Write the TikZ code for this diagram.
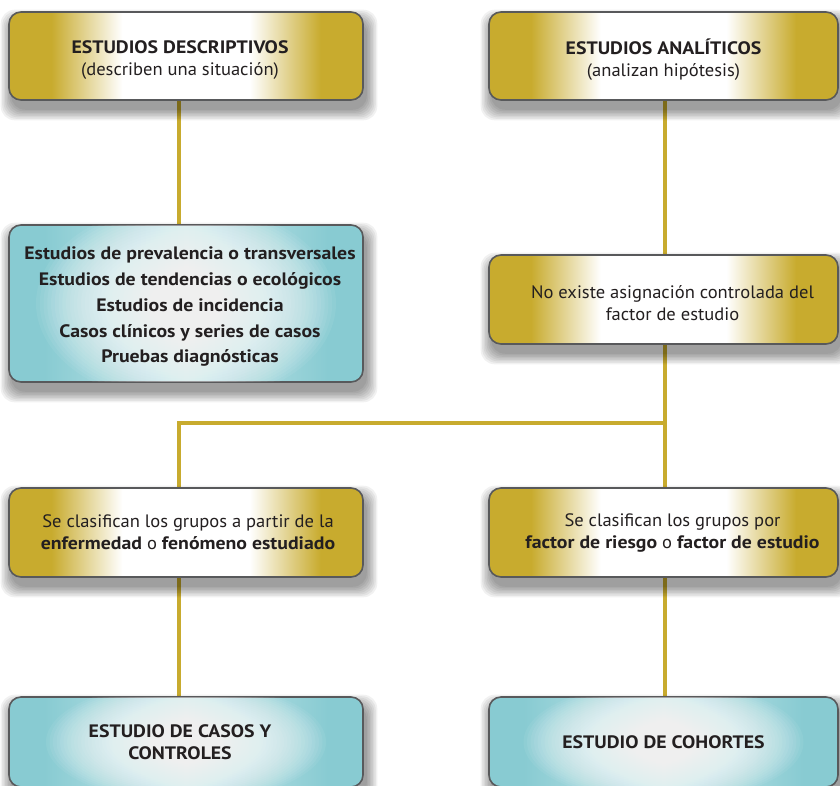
\documentclass[tikz,border=0pt]{standalone}
\usepackage{fontspec}
\setmainfont{PT Sans}[UprightFeatures={FakeStretch=1.03},BoldFeatures={FakeStretch=1.1}]
\usetikzlibrary{calc}
\definecolor{gold}{RGB}{200,171,46}
\definecolor{tealc}{RGB}{136,203,210}
\definecolor{edgec}{RGB}{88,89,91}
\definecolor{ink}{RGB}{35,31,32}
\pgfdeclarehorizontalshading{goldsh}{100bp}{color(0bp)=(gold); color(31bp)=(gold); color(41bp)=(white); color(59bp)=(white); color(69bp)=(gold); color(100bp)=(gold)}
\pgfdeclarehorizontalshading{tealsh}{100bp}{color(0bp)=(tealc); color(30bp)=(tealc); color(50bp)=(white!55!tealc); color(70bp)=(tealc); color(100bp)=(tealc)}
\pgfdeclarelayer{bg}
\pgfdeclarelayer{lines}
\pgfdeclarelayer{shade}
\pgfsetlayers{bg,lines,shade,main}
\begin{document}
\begin{tikzpicture}[x=1pt,y=-1pt,
  box/.style={rectangle, rounded corners=12pt, draw=edgec, line width=1.6pt, inner sep=0pt},
  goldbox/.style={box, shading=goldsh},
  tealbox/.style={box, shading=tealsh},
  glow/.style={white, opacity=0.06},
  txt/.style={text=ink, align=center, inner sep=0pt, font=\fontsize{18}{22}\selectfont},
  conn/.style={draw=gold, line width=4pt},
  shadowpiece/.style={fill=black, opacity=0.055, rounded corners=14pt}]
\begin{pgfonlayer}{bg}
\fill[white] (0,0) rectangle (840,785);
\end{pgfonlayer}
\useasboundingbox (0,0) rectangle (840,785);
\coordinate (L) at (179,0);
\coordinate (R) at (665,0);
\coordinate (J) at (665,423);
% boxes
\node[goldbox, minimum width=354pt, minimum height=88pt] (A) at (186,56) {};
\node[goldbox, minimum width=349pt, minimum height=88pt] (B) at (663.5,56) {};
\node[tealbox, minimum width=354pt, minimum height=157pt] (C) at (186,303.5) {};
\node[goldbox, minimum width=349pt, minimum height=89pt] (D) at (663.5,299.5) {};
\node[goldbox, minimum width=354pt, minimum height=89pt] (E) at (186,532.5) {};
\node[goldbox, minimum width=349pt, minimum height=89pt] (F) at (663.5,532.5) {};
\node[tealbox, minimum width=354pt, minimum height=90pt] (G) at (186,742) {};
\node[tealbox, minimum width=349pt, minimum height=90pt] (H) at (663.5,742) {};
% white glow inside the teal boxes
\foreach \n/\rx/\ry in {C/150/100, G/140/60, H/140/60}{
  \begin{scope}
    \clip[rounded corners=12pt] ([shift={(1,1)}]\n.north west) rectangle ([shift={(-1,-1)}]\n.south east);
    \foreach \k in {1,...,40}{
      \fill[glow] (\n.center) ellipse [x radius={(\rx*\k/40)*1pt}, y radius={(\ry*\k/40)*1pt}];
    }
  \end{scope}
}
% texts
\node[txt] (At) at ([shift={(-6,4)}]A.center) {\textbf{ESTUDIOS DESCRIPTIVOS}\\(describen una situación)};
\node[txt] (Bt) at ([shift={(0,4)}]B.center) {\textbf{ESTUDIOS ANALÍTICOS}\\(analizan hipótesis)};
\node[txt, font=\fontsize{18}{26}\selectfont] (Ct) at ([shift={(4,3)}]C.center) {\textbf{Estudios de prevalencia o transversales}\\\textbf{Estudios de tendencias o ecológicos}\\\textbf{Estudios de incidencia}\\\textbf{Casos clínicos y series de casos}\\\textbf{Pruebas diagnósticas}};
\node[txt] (Dt) at ([shift={(9,4)}]D.center) {No existe asignación controlada del\\factor de estudio};
\node[txt] (Et) at ([shift={(2,0)}]E.center) {Se clasifican los grupos a partir de la\\\textbf{enfermedad} o \textbf{fenómeno estudiado}};
\node[txt] (Ft) at ([shift={(9,0)}]F.center) {Se clasifican los grupos por\\\textbf{factor de riesgo} o \textbf{factor de estudio}};
\node[txt] (Gt) at ([shift={(-6,0)}]G.center) {\textbf{ESTUDIO DE CASOS Y}\\\textbf{CONTROLES}};
\node[txt] (Ht) at (H.center) {\textbf{ESTUDIO DE COHORTES}};
% soft shadows
\begin{pgfonlayer}{shade}
\foreach \n in {A,B,C,D,E,F,G,H}{
  \foreach \k in {0,...,7}{
    \fill[shadowpiece] ($(\n.north west)+(3-1.5*\k,9-1.5*\k)$) rectangle ($(\n.south east)+(3+1.5*\k,9+1.5*\k)$);
  }
}
\end{pgfonlayer}
% connectors
\begin{pgfonlayer}{lines}
\draw[conn] (A.south -| L) -- (C.north -| L);
\draw[conn] (B.south -| R) -- (D.north -| R);
\draw[conn] (D.south -| R) -- (F.north -| R);
\draw[conn] (J) -- (L |- J) -- (E.north -| L);
\draw[conn] (E.south -| L) -- (G.north -| L);
\draw[conn] (F.south -| R) -- (H.north -| R);
\end{pgfonlayer}
\end{tikzpicture}
\end{document}
